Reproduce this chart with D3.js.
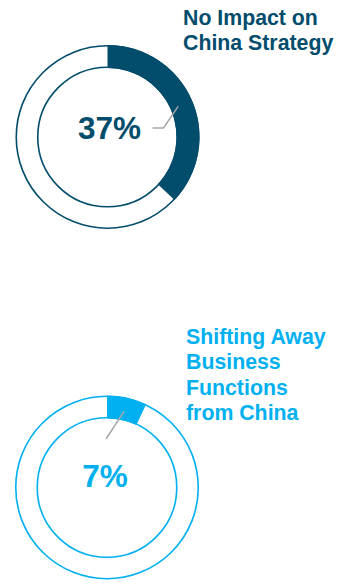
<!DOCTYPE html>
<html>
<head>
<meta charset="utf-8">
<script src="https://cdn.jsdelivr.net/npm/d3@7"></script>
<style>
  html, body { margin: 0; padding: 0; background: #fff; }
  svg { display: block; }
  text { font-family: "Liberation Sans", Arial, sans-serif; font-weight: bold; }
</style>
</head>
<body>
<svg id="chart" width="337" height="584"></svg>
<script>
// Share of respondents per answer
const labels = [["No Impact on", "China Strategy"], ["Shifting Away", "Business", "Functions", "from China"]];
const values = [37, 7];
const colors = ["#024c6c", "#00b0f0"];

const svg = d3.select("#chart");
const outerR = 92, innerR = 69;
const centers = [[107.5, 137], [107, 487.5]];
const labelPos = [[183, 25], [186, 344]];
const lineH = 25.3;

const angle = d3.scaleLinear().domain([0, 100]).range([0, 2 * Math.PI]);
const arc = d3.arc().innerRadius(innerR).outerRadius(outerR);

values.forEach((v, i) => {
  const g = svg.append("g").attr("transform", `translate(${centers[i][0]},${centers[i][1]})`);
  const c = colors[i];

  // filled share
  g.append("path")
    .attr("d", arc({ startAngle: 0, endAngle: angle(v) }))
    .attr("fill", c);

  // ring outlines
  [outerR - 0.75, innerR + 0.75].forEach(r =>
    g.append("circle").attr("r", r).attr("fill", "none").attr("stroke", c).attr("stroke-width", 1.6));

  // leader from the arc towards the value
  const mid = angle(v / 2);
  const rm = (innerR + outerR) / 2;
  let pts;
  if (i === 0) {
    pts = [[Math.sin(mid) * (innerR + 8), -Math.cos(mid) * (innerR + 8)], [56, -9], [45, -9]];
  } else {
    pts = [[Math.sin(mid) * rm * 0.97, -Math.cos(mid) * rm * 0.97], [-1, -48.5]];
  }
  g.append("path")
    .attr("d", d3.line()(pts))
    .attr("fill", "none")
    .attr("stroke", "#a6a6a6")
    .attr("stroke-width", 1.5);

  // value label
  g.append("text")
    .attr("x", i === 0 ? 2 : -2)
    .attr("y", i === 0 ? 2.3 : -0.5)
    .attr("text-anchor", "middle")
    .attr("font-size", 31.5)
    .attr("fill", c)
    .text(v + "%");

  // category label
  const t = svg.append("text")
    .attr("x", labelPos[i][0])
    .attr("y", labelPos[i][1])
    .attr("font-size", 21.3)
    .attr("fill", c);
  labels[i].forEach((line, j) =>
    t.append("tspan").attr("x", labelPos[i][0]).attr("y", labelPos[i][1] + j * lineH).text(line));
});
</script>
</body>
</html>
